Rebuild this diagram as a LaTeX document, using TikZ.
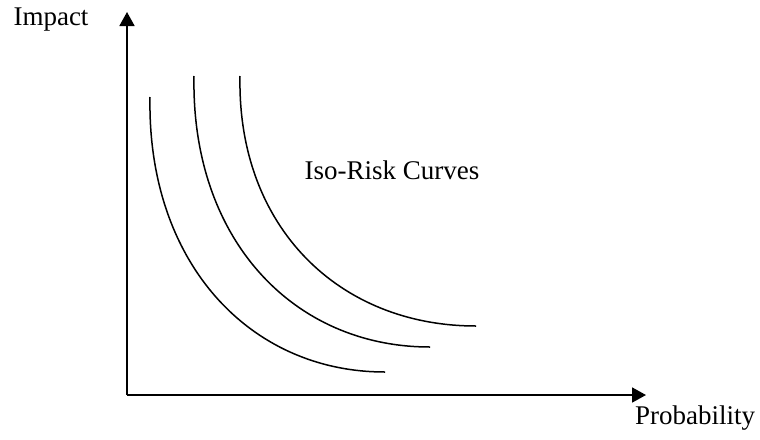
\documentclass[tikz,border=0pt]{standalone}
\usepackage{fontspec}
\setmainfont{Liberation Serif}
\usepackage{tikz}
\usetikzlibrary{arrows.meta, positioning}
\tikzset{
  axis/.style={-{Triangle[length=7pt, width=7.5pt]}, line width=0.9pt, color=black},
  isocurve/.style={line width=0.75pt, color=black},
  lbl/.style={font=\fontsize{13.5}{15}\selectfont, inner sep=0pt}
}

\begin{document}
\begin{tikzpicture}[x=0.5pt, y=-0.5pt]
  \useasboundingbox (0,0) rectangle (760,439);

  % Axes
  \coordinate (origin) at (127,395);
  \coordinate (ytip) at (127,12);
  \coordinate (xtip) at (646,395);
  \draw[axis] (origin) -- (ytip);
  \draw[axis] (origin) -- (xtip);
  \node[lbl] (impact) at (51,20) {Impact};
  \node[lbl] (prob) at (695,418) {Probability};

  % Iso-risk curves
  \draw[isocurve] (150,97) .. controls (147,262) and (249,372) .. (385,372);
  \draw[isocurve] (194,76) .. controls (191,239) and (293,347) .. (430,347);
  \draw[isocurve] (240,76) .. controls (237,227) and (339,326) .. (476,326);
  \node[lbl] (iso) at (392,170) {Iso-Risk Curves};

\end{tikzpicture}
\end{document}
